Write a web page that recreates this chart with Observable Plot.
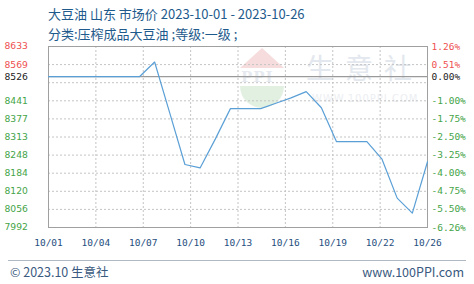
<!DOCTYPE html>
<html>
<head>
<meta charset="utf-8">
<script src="https://cdn.jsdelivr.net/npm/d3@7"></script>
<script src="https://cdn.jsdelivr.net/npm/@observablehq/plot@0.6"></script>
<style>
  body { margin: 0; background: #fff; }
  #wrap { position: relative; width: 474px; height: 284px; overflow: hidden; font-family: "Noto Sans CJK SC", "DejaVu Sans", sans-serif; }
  .t { position: absolute; white-space: nowrap; color: #1e5a8c; }
  #title { left: 48px; top: 5px; font-size: 13px; line-height: 18px; }
  #sub { left: 48px; top: 25px; font-size: 13px; line-height: 18px; }
  #foot { position: absolute; left: 8px; right: 8px; top: 260px; border-top: 1px solid #b0b8c4; }
  #fl { left: 10px; top: 263px; font-size: 12.5px; line-height: 18px; color: #3a5a80; }
  #fr { right: 10px; top: 263px; font-size: 12.5px; line-height: 18px; color: #3a5a80; }
  #wm { position: absolute; left: 306px; top: 50px; font-size: 28px; letter-spacing: 11px; color: #e3e7ee; line-height: 34px; font-family: "Noto Sans CJK SC", sans-serif; }
  #wm2 { position: absolute; left: 312px; top: 93px; font-size: 10px; letter-spacing: 1px; color: #eceef2; font-family: "DejaVu Sans", sans-serif; }
  #tri { position: absolute; left: 240px; top: 48px; width: 0; height: 0; border-left: 22px solid transparent; border-right: 22px solid transparent; border-bottom: 20px solid #f6dcdc; }
  #semi { position: absolute; left: 240px; top: 86px; width: 44px; height: 22px; border-radius: 0 0 22px 22px; background: #e2f0e2; }
  #ppi { position: absolute; left: 241px; top: 68px; font-size: 15px; font-weight: bold; color: #e6eaf0; font-family: "DejaVu Serif", serif; letter-spacing: 1px; }
  svg { position: absolute; left: 0; top: 0; }
</style>
</head>
<body>
<div id="wrap">
  <div id="tri"></div><div id="semi"></div><div id="ppi">PPI</div>
  <div id="wm">生意社</div>
  <div id="wm2">WWW.100PPI.COM</div>
</div>
<script>
// ---- data ----
const dates = ["2023-10-01","2023-10-02","2023-10-03","2023-10-04","2023-10-05","2023-10-06","2023-10-07",
  "2023-10-08","2023-10-09","2023-10-10","2023-10-11","2023-10-12","2023-10-13","2023-10-14","2023-10-15",
  "2023-10-16","2023-10-17","2023-10-18","2023-10-19","2023-10-20","2023-10-21","2023-10-22","2023-10-23",
  "2023-10-24","2023-10-25","2023-10-26"];
const prices = [8526,8526,8526,8526,8526,8526,8526,
  8578,8397,8215,8203,8305,8413,8413,8413,
  8432,8451,8473,8416,8296,8296,8296,8234,
  8096,8043,8225];
const xTickLabels = ["10/01","10/04","10/07","10/10","10/13","10/16","10/19","10/22","10/26"];
const yTickLabels = ["7992","8056","8120","8184","8248","8313","8377","8441","","8569","8633"];
const pctTickLabels = ["-6.26%","-5.50%","-4.75%","-4.00%","-3.25%","-2.50%","-1.75%","-1.00%","","0.51%","1.26%"];
const basePrice = 8526;
const baseLabel = "8526";
const basePct = "0.00%";
const yMin = 7992, yMax = 8633;
const titleText = "大豆油 山东 市场价 2023-10-01 - 2023-10-26";
const subText = "分类:压榨成品大豆油 ;等级:一级 ;";
const footLeft = "© 2023.10 生意社";
const footRight = "www.100PPI.com";

// ---- build ----
const data = dates.map((d, i) => ({date: new Date(d + "T00:00:00Z"), value: prices[i]}));
const x0 = data[0].date.getTime(), x1 = data[data.length - 1].date.getTime();
const xTicks = xTickLabels.map((_, k) => new Date(x0 + k * (x1 - x0) / (xTickLabels.length - 1)));
const xLabelMap = new Map(xTicks.map((t, k) => [t.getTime(), xTickLabels[k]]));
const yTicks = yTickLabels.map((_, k) => yMin + k * (yMax - yMin) / (yTickLabels.length - 1));
const leftMap = new Map(yTicks.map((t, k) => [t, yTickLabels[k]]));
const rightMap = new Map(yTicks.map((t, k) => [t, pctTickLabels[k]]));
const redTicks = yTicks.filter(t => t > basePrice);
const greenTicks = yTicks.filter((t, k) => t < basePrice && yTickLabels[k] !== "");
const RED = "#ee5050", GREEN = "#44a447", BLACK = "#222";
const leftFont = {fontFamily: "DejaVu Sans", fontSize: 9.2};
const monoFont = {fontFamily: "DejaVu Sans Mono", fontSize: 9.5};

const leftAxis = (ticks, fill, fmt) => Plot.axisY(ticks, {anchor: "left", label: null, tickSize: 0, tickPadding: 44, textAnchor: "start", fill, tickFormat: fmt, ...leftFont});
const rightAxis = (ticks, fill, fmt) => Plot.axisY(ticks, {anchor: "right", label: null, tickSize: 0, tickPadding: 4, textAnchor: "start", fill, tickFormat: fmt, ...monoFont});

const chart = Plot.plot({
  width: 474, height: 284,
  marginLeft: 48, marginRight: 47, marginTop: 46, marginBottom: 57,
  style: {background: "transparent", overflow: "visible"},
  x: {type: "utc", domain: [data[0].date, data[data.length - 1].date], label: null},
  y: {domain: [yMin, yMax], label: null},
  marks: [
    Plot.gridY(yTicks, {stroke: "#c4c4c4", strokeOpacity: 1, strokeDasharray: "2,2"}),
    Plot.gridX(xTicks, {stroke: "#c4c4c4", strokeOpacity: 1, strokeDasharray: "2,2"}),
    Plot.ruleY([basePrice], {stroke: "#9a9a9a", strokeWidth: 1.2}),
    Plot.frame({stroke: "#a0a0a0"}),
    Plot.line(data, {x: "date", y: "value", stroke: "#5a9fd6", strokeWidth: 1.2}),
    leftAxis(redTicks, RED, d => leftMap.get(d)),
    leftAxis([basePrice], BLACK, () => baseLabel),
    leftAxis(greenTicks, GREEN, d => leftMap.get(d)),
    rightAxis(redTicks, RED, d => rightMap.get(d)),
    rightAxis([basePrice], BLACK, () => basePct),
    rightAxis(greenTicks, GREEN, d => rightMap.get(d)),
    Plot.axisX(xTicks, {anchor: "bottom", label: null, tickSize: 0, tickPadding: 12, fill: "#1f4f80", tickFormat: d => xLabelMap.get(d.getTime()), ...monoFont})
  ]
});

const wrap = document.getElementById("wrap");
wrap.appendChild(chart);
const add = (id, cls, txt) => { const e = document.createElement("div"); e.id = id; if (cls) e.className = cls; if (txt != null) e.textContent = txt; wrap.appendChild(e); };
add("title", "t", titleText);
add("sub", "t", subText);
add("foot", "", null);
add("fl", "t", footLeft);
add("fr", "t", footRight);
</script>
</body>
</html>
